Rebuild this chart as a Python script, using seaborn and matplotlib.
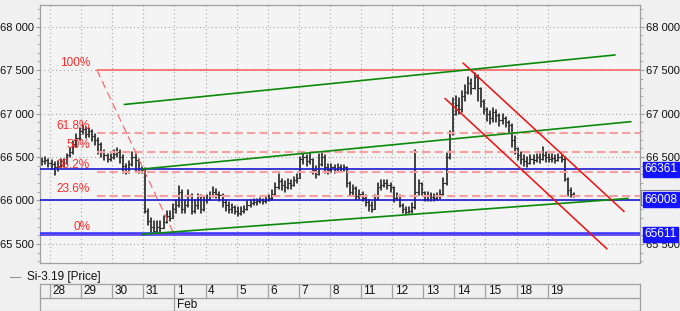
import numpy as np
import pandas as pd
import matplotlib
matplotlib.use("Agg")
import matplotlib.pyplot as plt
import matplotlib.transforms as mtransforms
from matplotlib.ticker import FuncFormatter, MultipleLocator
import seaborn as sns

# ---------------- data ----------------
day_labels = ['28', '29', '30', '31', '1', '4', '5', '6', '7', '8', '11', '12', '13', '14', '15', '18', '19']
month_labels = ['Feb']
month_start_day = [4]
legend_label = 'Si-3.19 [Price]'

# bars per day: first entry is the partial day before the 28th, last is the partial 19th
day_bar_counts = [3] + [10] * 16 + [9]
day_first_slot = [7] + [0] * 17
slots_per_day = 10

close = [
    66450, 66470, 66430,
    66420, 66380, 66400, 66450, 66430, 66520, 66560, 66650, 66720, 66800,
    66820, 66760, 66800, 66740, 66700, 66650, 66560, 66520, 66480, 66500,
    66540, 66560, 66500, 66400, 66340, 66420, 66500, 66470, 66360, 66350,
    65880, 65760, 65700, 65650, 65700, 65680, 65750, 65820, 65800, 65900,
    65950, 66100, 65900, 65950, 66050, 65880, 65950, 66020, 65900, 66000,
    66020, 66060, 66100, 66080, 66060, 65980, 65950, 65900, 65920, 65880,
    65860, 65880, 65900, 65950, 65970, 65980, 65990, 66000, 65990, 66010,
    66030, 66080, 66150, 66220, 66180, 66150, 66200, 66180, 66230, 66260,
    66480, 66500, 66450, 66480, 66350, 66300, 66420, 66500, 66380, 66350,
    66380, 66360, 66390, 66370, 66380, 66200, 66100, 66140, 66050, 66080,
    66030, 65980, 65950, 65900, 66020, 66150, 66180, 66200, 66180, 66160,
    66030, 66050, 65950, 65900, 65870, 65880, 65920, 66100, 66200, 66100,
    66020, 66060, 66040, 66030, 66050, 66080, 66200, 66500, 66780, 67000,
    67100, 67050, 67200, 67250, 67350, 67300, 67420, 67300, 67150, 67050,
    67000, 66950, 67020, 66980, 66930, 66950, 66900, 66870, 66700, 66600,
    66520, 66480, 66450, 66430, 66480, 66460, 66500, 66480, 66520, 66500,
    66480, 66490, 66470, 66500, 66480, 66250, 66120, 66070, 66060,
]
high = [
    66490, 66500, 66480,
    66470, 66440, 66450, 66480, 66480, 66540, 66600, 66680, 66760, 66830,
    66870, 66840, 66830, 66810, 66760, 66720, 66660, 66580, 66540, 66530,
    66580, 66600, 66580, 66520, 66420, 66450, 66560, 66530, 66480, 66380,
    66370, 65900, 65800, 65760, 65760, 65760, 65820, 65880, 65880, 65960,
    66000, 66170, 66120, 66000, 66120, 66080, 66000, 66080, 66060, 66050,
    66060, 66100, 66150, 66130, 66100, 66080, 66000, 65980, 65960, 65940,
    65920, 65920, 65940, 65990, 66000, 66020, 66020, 66030, 66020, 66040,
    66060, 66120, 66200, 66300, 66250, 66220, 66250, 66230, 66270, 66300,
    66500, 66540, 66520, 66530, 66480, 66400, 66540, 66550, 66520, 66420,
    66420, 66410, 66420, 66410, 66410, 66390, 66210, 66180, 66150, 66120,
    66100, 66060, 66010, 65980, 66060, 66200, 66230, 66240, 66230, 66200,
    66070, 66090, 66060, 65960, 65930, 65920, 65970, 66580, 66240, 66200,
    66100, 66100, 66090, 66080, 66090, 66120, 66260, 66550, 66800, 67175,
    67200, 67180, 67260, 67330, 67420, 67400, 67465, 67440, 67300, 67160,
    67070, 67030, 67060, 67040, 67000, 67000, 66960, 66920, 66880, 66740,
    66580, 66560, 66520, 66500, 66520, 66520, 66540, 66530, 66620, 66560,
    66530, 66530, 66520, 66540, 66520, 66500, 66260, 66140, 66090,
]
low = [
    66410, 66420, 66380,
    66360, 66290, 66340, 66380, 66380, 66420, 66500, 66540, 66620, 66700,
    66760, 66720, 66730, 66690, 66640, 66540, 66500, 66460, 66440, 66450,
    66480, 66500, 66430, 66320, 66300, 66320, 66400, 66340, 66320, 66320,
    65850, 65720, 65640, 65611, 65640, 65640, 65680, 65740, 65760, 65800,
    65850, 65920, 65860, 65860, 65930, 65840, 65860, 65900, 65860, 65880,
    65970, 66000, 66040, 66030, 65990, 65930, 65880, 65860, 65860, 65840,
    65820, 65830, 65850, 65890, 65930, 65950, 65950, 65970, 65960, 65970,
    65990, 66010, 66070, 66130, 66120, 66100, 66130, 66130, 66170, 66200,
    66260, 66420, 66400, 66420, 66300, 66260, 66290, 66400, 66320, 66300,
    66330, 66320, 66340, 66330, 66340, 66150, 66060, 66060, 66010, 66020,
    65990, 65940, 65880, 65870, 65900, 66010, 66120, 66150, 66130, 66100,
    65980, 66000, 65920, 65850, 65840, 65850, 65860, 65900, 66060, 66060,
    65990, 65990, 65990, 65990, 66000, 66020, 66060, 66180, 66480, 66750,
    66980, 67000, 67020, 67150, 67220, 67230, 67280, 67150, 67080, 67000,
    66920, 66880, 66900, 66900, 66860, 66880, 66840, 66780, 66620, 66540,
    66460, 66420, 66400, 66380, 66420, 66420, 66440, 66430, 66460, 66440,
    66440, 66440, 66430, 66450, 66440, 66220, 66050, 66040, 66040,
]
first_open = 66460

# Fibonacci retracement
fib_high = 67500
fib_low = 65611
fib_ratios = [1.0, 0.618, 0.5, 0.382, 0.236, 0.0]
fib_labels = ['100%', '61.8%', '50%', '38.2%', '23.6%', '0%']
fib_start_day = 1.51
fib_diag_day = [1.51, 3.99]

# horizontal levels (blue) with right-side tags
blue_levels = [66361, 66008, 65611]
blue_tags = ['66361', '66008', '65611']
last_price_tag = '66 018'
last_price = 66032

# trend channels
green_day = [[2.39, 18.17], [2.96, 18.68], [2.96, 18.59]]
green_price = [[67105, 67675], [66361, 66907], [65611, 66023]]
red_day = [[13.28, 18.46], [12.70, 17.91]]
red_price = [[67582, 65872], [67175, 65442]]

# ---------------- style ----------------
sns.set_theme(style='white')
plt.rcParams['font.family'] = ['Liberation Sans', 'DejaVu Sans']
plt.rcParams['font.size'] = 8

fig_bg = '#f0f0f0'
ax_bg = '#f4f4f4'
frame_c = '#a0a0a0'
FS = 8

fig = plt.figure(figsize=(6.8, 3.11), dpi=100, facecolor=fig_bg)
L, R = 40 / 680, 640 / 680
B, T = 1 - 263 / 311, 1 - 5 / 311
ax = fig.add_axes([L, B, R - L, T - B], facecolor=ax_bg)

xmin, xmax = (40 - 50) / 31.1, (640 - 50) / 31.1
ymin, ymax = 65280, 68250

# ---------------- bars ----------------
xs = []
for di, (n, s0) in enumerate(zip(day_bar_counts, day_first_slot)):
    for k in range(n):
        xs.append((di - 1) + (s0 + k + 0.5) / slots_per_day)
xs = np.array(xs)
close_a = np.array(close, float)
open_a = np.concatenate([[first_open], close_a[:-1]])
high_a = np.maximum.reduce([np.array(high, float), open_a, close_a])
low_a = np.minimum.reduce([np.array(low, float), open_a, close_a])

nb = len(xs)
rows = []
for i in range(nb):
    rows.append((i, xs[i], low_a[i]))
    rows.append((i, xs[i], high_a[i]))
df_hl = pd.DataFrame(rows, columns=['bar', 'x', 'p'])
sns.lineplot(data=df_hl, x='x', y='p', units='bar', estimator=None, sort=False,
             color='#111111', lw=1.1, ax=ax, zorder=2)

tk = 0.04
rows = []
for i in range(nb):
    rows.append((2 * i, xs[i] - tk, open_a[i]))
    rows.append((2 * i, xs[i], open_a[i]))
    rows.append((2 * i + 1, xs[i], close_a[i]))
    rows.append((2 * i + 1, xs[i] + tk, close_a[i]))
df_oc = pd.DataFrame(rows, columns=['seg', 'x', 'p'])
sns.lineplot(data=df_oc, x='x', y='p', units='seg', estimator=None, sort=False,
             color='#333333', lw=0.8, ax=ax, zorder=2)

# ---------------- Fibonacci ----------------
fib_levels = [fib_low + r * (fib_high - fib_low) for r in fib_ratios]
for r, lv, lab in zip(fib_ratios, fib_levels, fib_labels):
    if r in (0.0, 1.0):
        ax.plot([fib_start_day, xmax], [lv, lv], color='#ff6464', lw=1.2, zorder=3)
    else:
        ax.plot([fib_start_day, xmax], [lv, lv], color='#f4a0a0', lw=1.5,
                dashes=(4, 2), zorder=3)
    ax.text(fib_start_day - 0.22, lv + 10, lab, color='#ff2a2a', fontsize=8.5,
            ha='right', va='bottom', zorder=4)
ax.plot(fib_diag_day, [fib_high, fib_low], color='#ff6060', lw=0.8,
        dashes=(7, 4), zorder=3)

# ---------------- blue levels ----------------
for lv in blue_levels:
    if lv == fib_low:
        ax.axhline(lv, color='#3838ff', lw=2.6, zorder=3.2)
        ax.axhline(lv, color='#c050c0', lw=0.6, alpha=0.6, zorder=3.3)
    else:
        ax.axhline(lv, color='#1a1ad0', lw=1.2, zorder=3.2)

# ---------------- channels ----------------
df_g = pd.DataFrame([(j, d, p) for j, (dd, pp) in enumerate(zip(green_day, green_price))
                     for d, p in zip(dd, pp)], columns=['line', 'x', 'p'])
sns.lineplot(data=df_g, x='x', y='p', units='line', estimator=None, sort=False,
             color='#0a8a0a', lw=1.2, ax=ax, zorder=4)
df_r = pd.DataFrame([(j, d, p) for j, (dd, pp) in enumerate(zip(red_day, red_price))
                     for d, p in zip(dd, pp)], columns=['line', 'x', 'p'])
sns.lineplot(data=df_r, x='x', y='p', units='line', estimator=None, sort=False,
             color='#f01010', lw=1.1, ax=ax, zorder=4)

# ---------------- axes ----------------
fmt = FuncFormatter(lambda v, p: f"{int(v):,}".replace(',', ' '))
ax.set_xlim(xmin, xmax)
ax.set_ylim(ymin, ymax)
ax.set_xlabel('')
ax.set_ylabel('')
ax.set_xticks(range(len(day_labels)))
ax.tick_params(axis='x', length=0, labelbottom=False)
ax.yaxis.set_major_locator(MultipleLocator(500))
ax.yaxis.set_minor_locator(MultipleLocator(100))
ax.yaxis.set_major_formatter(fmt)
ax.tick_params(axis='y', which='major', length=3, width=0.8, color=frame_c,
               labelsize=FS, pad=1.5, left=True, labelcolor='#111111')
ax.tick_params(axis='y', which='minor', length=2, width=0.6, color=frame_c, left=True)
ax.grid(True, which='major', color='#a8a8a8', lw=0.8, linestyle=(0, (1, 2.5)))
for s in ax.spines.values():
    s.set_color(frame_c)
    s.set_linewidth(0.9)

ax2 = ax.twinx()
ax2.set_ylim(ymin, ymax)
ax2.yaxis.set_major_locator(MultipleLocator(500))
ax2.yaxis.set_minor_locator(MultipleLocator(100))
ax2.yaxis.set_major_formatter(fmt)
ax2.tick_params(axis='y', which='major', length=3, width=0.8, color=frame_c,
                labelsize=FS, pad=1, right=True, labelcolor='#111111')
ax2.tick_params(axis='y', which='minor', length=2, width=0.6, color=frame_c, right=True)
ax2.set_ylabel('')
for s in ax2.spines.values():
    s.set_visible(False)

trans = mtransforms.blended_transform_factory(ax2.transAxes, ax2.transData)
ax2.text(1.006, last_price, last_price_tag, transform=trans, color='#202020', fontsize=FS,
         ha='left', va='center', zorder=5, clip_on=False,
         bbox=dict(boxstyle='square,pad=0.2', fc='#fafafa', ec='#808080', lw=0.8))
for lv, tag in zip(blue_levels, blue_tags):
    ax2.text(1.007, lv, tag, transform=trans, color='white', fontsize=FS + 0.5,
             ha='left', va='center', zorder=6, clip_on=False,
             bbox=dict(boxstyle='square,pad=0.12', fc='#1414ff', ec='#1414ff'))

# ---------------- legend line ----------------
fig.text(10 / 680, 1 - 277 / 311, '—', color='#707070', fontsize=8, va='center', ha='left')
fig.text(27 / 680, 1 - 277 / 311, legend_label, color='#111111', fontsize=8.5,
         va='center', ha='left')

# ---------------- date table ----------------
axt = fig.add_axes([L, 0, R - L, 27 / 311], facecolor=fig_bg)
axt.set_xlim(xmin, xmax)
axt.set_ylim(0, 2)
axt.set_xticks([])
axt.set_yticks([])
for s in axt.spines.values():
    s.set_color(frame_c)
    s.set_linewidth(0.9)
axt.axhline(1, color=frame_c, lw=0.9)
axt.vlines(range(len(day_labels)), 1, 2, color=frame_c, lw=0.9)
axt.vlines(month_start_day, 0, 1, color=frame_c, lw=0.9)
for i, lab in enumerate(day_labels):
    axt.text(i + 0.08, 1.45, lab, fontsize=8.5, ha='left', va='center', color='#111111')
for d, lab in zip(month_start_day, month_labels):
    axt.text(d + 0.08, 0.45, lab, fontsize=8.5, ha='left', va='center', color='#111111')

fig.savefig('out.png', dpi=100, facecolor=fig.get_facecolor())
